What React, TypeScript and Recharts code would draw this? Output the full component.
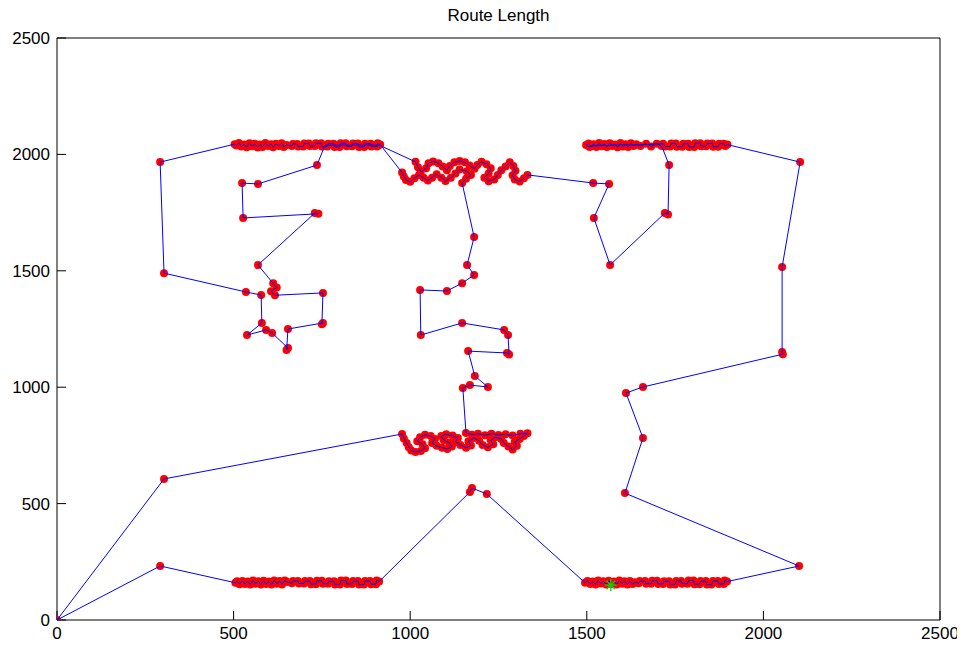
import React from 'react';
import { ComposedChart, Scatter, XAxis, YAxis } from 'recharts';

type Pt = [number, number];

// tour legs, in visiting order
const originLeg: Pt[] = [[0, 0], [303, 606]];

const lowerMidCluster: Pt[] = [
  [977, 799], [982, 780], [990, 760], [996, 742], [1003, 728], [1015, 722], [1030, 726], [1042, 738],
  [1035, 755], [1020, 768], [1028, 785], [1042, 796], [1058, 790], [1070, 778], [1062, 760], [1075, 748],
  [1090, 740], [1105, 735], [1118, 745], [1110, 762], [1095, 772], [1088, 790], [1102, 798], [1120, 792],
  [1135, 782], [1128, 765], [1142, 752], [1158, 740], [1172, 750], [1165, 768], [1180, 782], [1195, 770],
  [1205, 752], [1220, 742], [1235, 755], [1228, 772], [1242, 785], [1258, 778], [1265, 760], [1278, 745],
  [1290, 732], [1302, 748], [1296, 765], [1310, 778], [1322, 790], [1332, 802], [1312, 800], [1290, 792],
  [1270, 798], [1250, 795], [1230, 800], [1212, 794], [1192, 800], [1175, 796], [1158, 803],
];

const centralChain: Pt[] = [
  [1149, 997], [1169, 1009], [1220, 1001], [1183, 1048], [1164, 1155], [1274, 1147], [1280, 1140],
  [1277, 1224], [1266, 1246], [1147, 1276], [1030, 1224], [1028, 1418], [1104, 1413], [1147, 1447],
  [1181, 1482], [1161, 1525], [1181, 1645],
];

const topMidWest: Pt[] = [
  [1147, 1877], [1158, 1895], [1172, 1912], [1160, 1928], [1140, 1935], [1128, 1918], [1115, 1900],
  [1100, 1886], [1088, 1900], [1075, 1915], [1062, 1900], [1050, 1888], [1038, 1900], [1025, 1912],
  [1012, 1898], [1000, 1882], [988, 1890], [982, 1905], [977, 1922],
];

const topLeftZigzag: Pt[] = [
  [915, 2042], [908, 2048], [906, 2034], [890, 2034], [888, 2046], [872, 2046], [870, 2032], [855, 2032],
  [852, 2047], [838, 2047], [835, 2035], [820, 2035], [817, 2048], [803, 2048], [800, 2032], [786, 2032],
  [783, 2046], [768, 2046], [765, 2034], [750, 2034], [748, 2048], [733, 2048], [730, 2036], [716, 2036],
  [713, 2047], [700, 2047], [697, 2034], [683, 2034], [680, 2045], [668, 2045], [665, 2036],
];

const topLeftDense: Pt[] = [
  [650, 2040], [642, 2032], [636, 2048], [628, 2036], [620, 2046], [612, 2031], [606, 2044], [598, 2036],
  [590, 2049], [582, 2032], [575, 2042], [568, 2030], [560, 2046], [552, 2035], [545, 2048], [537, 2031],
  [530, 2043], [522, 2034], [515, 2049], [508, 2038], [503, 2044],
];

const topLeftLoop: Pt[] = [
  [292, 1967], [303, 1490], [535, 1409], [578, 1396], [580, 1276], [538, 1224], [592, 1246], [609, 1233],
  [654, 1168], [650, 1160], [654, 1250], [753, 1276], [750, 1270], [753, 1405], [617, 1395], [606, 1412],
  [622, 1428], [612, 1446], [569, 1525], [730, 1748], [740, 1745], [527, 1727], [524, 1877], [569, 1873],
  [736, 1954], [759, 2040], [912, 2040],
];

const topMidEast: Pt[] = [
  [1015, 1968], [1022, 1945], [1030, 1925], [1045, 1940], [1052, 1962], [1065, 1970], [1080, 1962],
  [1092, 1948], [1104, 1932], [1112, 1950], [1125, 1966], [1140, 1972], [1155, 1966], [1168, 1952],
  [1182, 1938], [1190, 1955], [1202, 1968], [1216, 1958], [1228, 1940], [1222, 1918], [1210, 1900],
  [1222, 1885], [1238, 1892], [1248, 1912], [1258, 1932], [1270, 1948], [1282, 1966], [1292, 1950],
  [1298, 1930], [1290, 1910], [1296, 1892], [1310, 1884], [1322, 1898], [1332, 1912],
];

const topRightLoop: Pt[] = [
  [1518, 1877], [1563, 1873], [1520, 1727], [1566, 1525], [1721, 1748], [1730, 1742], [1733, 1954],
];

const topRightRow: Pt[] = [
  [1712, 2036], [1698, 2046], [1682, 2034], [1668, 2046], [1652, 2036], [1640, 2044],
  [1632, 2036], [1625, 2048], [1617, 2032], [1610, 2044], [1602, 2034], [1595, 2049], [1587, 2031],
  [1580, 2043], [1572, 2036], [1565, 2048], [1557, 2032], [1550, 2045], [1542, 2035], [1535, 2049],
  [1527, 2032], [1520, 2044], [1512, 2036], [1505, 2047], [1498, 2040],
  [1508, 2032], [1530, 2040], [1560, 2038], [1600, 2042], [1636, 2040], [1716, 2046],
  [1722, 2034], [1736, 2034], [1739, 2047], [1752, 2047], [1755, 2033], [1770, 2033], [1773, 2046],
  [1787, 2046], [1790, 2032], [1804, 2032], [1807, 2048], [1821, 2048], [1824, 2035], [1838, 2035],
  [1841, 2047], [1855, 2047], [1858, 2033], [1872, 2033], [1875, 2046], [1888, 2046], [1892, 2036],
  [1898, 2042],
];

const eastSide: Pt[] = [
  [2104, 1967], [2053, 1516], [2053, 1151], [2055, 1142], [1659, 1001], [1611, 975], [1659, 782],
  [1608, 545], [2101, 232],
];

const bottomRightRow: Pt[] = [
  [1897, 165], [1890, 170], [1888, 155], [1874, 155], [1871, 168], [1857, 168], [1853, 152], [1840, 152],
  [1837, 167], [1822, 167], [1819, 154], [1805, 154], [1802, 170], [1788, 170], [1785, 156], [1770, 156],
  [1767, 168], [1753, 168], [1750, 153], [1736, 153], [1733, 166], [1719, 166], [1716, 155], [1702, 155],
  [1699, 169], [1685, 169], [1682, 156], [1668, 156], [1665, 167], [1650, 167], [1647, 158], [1636, 162],
  [1630, 155], [1622, 168], [1615, 152], [1607, 166], [1600, 156], [1592, 170], [1585, 153], [1577, 165],
  [1570, 155], [1562, 169], [1555, 152], [1547, 166], [1540, 157], [1532, 170], [1525, 153], [1517, 165],
  [1510, 155], [1502, 168], [1495, 160],
];

const centreDip: Pt[] = [[1217, 541], [1175, 567], [1169, 550]];

const bottomLeftRow: Pt[] = [
  [912, 165], [905, 170], [903, 154], [889, 154], [886, 168], [872, 168], [869, 152], [855, 152],
  [852, 167], [838, 167], [835, 155], [821, 155], [818, 170], [804, 170], [801, 153], [787, 153],
  [784, 166], [770, 166], [767, 156], [753, 156], [750, 169], [736, 169], [733, 154], [719, 154],
  [716, 167], [702, 167], [699, 157], [685, 157], [682, 168], [668, 168], [665, 158],
  [652, 163], [645, 170], [637, 153], [630, 167], [622, 156], [615, 170], [607, 152], [600, 165],
  [592, 155], [585, 169], [577, 153], [570, 166], [562, 156], [555, 170], [547, 153], [540, 165],
  [532, 155], [525, 168], [517, 154], [510, 166], [505, 160],
];

const homeLeg: Pt[] = [[292, 232]];

const startCity: Pt[] = [[1568, 150]];

const axisTicks = [0, 500, 1000, 1500, 2000, 2500];

const tour: Pt[] = [
  ...originLeg, ...lowerMidCluster, ...centralChain, ...topMidWest, ...topLeftZigzag, ...topLeftDense,
  ...topLeftLoop, ...topMidEast, ...topRightLoop, ...topRightRow, ...eastSide, ...bottomRightRow,
  ...centreDip, ...bottomLeftRow, ...homeLeg,
];

const stops = tour.map(([x, y]) => ({ x, y }));
const closedPath = [...stops, stops[0]];
const startData = startCity.map(([x, y]) => ({ x, y }));

const FONT = '"Liberation Sans", Arial, sans-serif';
const tickStyle = { fill: '#000', fontSize: 17, fontFamily: FONT };

const RedDot = (props: any) => <circle cx={props.cx} cy={props.cy} r={4} fill="#ff0000" />;
const NoMark = () => <g />;

const GreenStar = (props: any) => {
  const { cx, cy } = props;
  const r = 6;
  const d = 4.3;
  return (
    <g stroke="#00dd00" strokeWidth={1.3}>
      <line x1={cx - r} y1={cy} x2={cx + r} y2={cy} />
      <line x1={cx} y1={cy - r} x2={cx} y2={cy + r} />
      <line x1={cx - d} y1={cy - d} x2={cx + d} y2={cy + d} />
      <line x1={cx - d} y1={cy + d} x2={cx + d} y2={cy - d} />
    </g>
  );
};

export default function App() {
  return (
    <div style={{ position: 'relative', width: 955, height: 640 }}>
      <div
        style={{
          position: 'absolute',
          left: 49,
          width: 883,
          top: -2,
          textAlign: 'center',
          fontFamily: FONT,
          fontSize: 17,
          lineHeight: '20px',
        }}
      >
        Route Length
      </div>
      <ComposedChart width={955} height={640} margin={{ top: 20, right: 13, bottom: 3, left: 4 }}>
        <XAxis
          dataKey="x"
          type="number"
          domain={[0, 2500]}
          ticks={axisTicks}
          interval={0}
          allowDataOverflow
          height={25}
          tickSize={-9}
          tickMargin={16}
          axisLine={{ stroke: '#000' }}
          tickLine={{ stroke: '#000' }}
          tick={tickStyle}
        />
        <XAxis
          xAxisId="top"
          orientation="top"
          type="number"
          domain={[0, 2500]}
          ticks={axisTicks}
          interval={0}
          height={10}
          tickSize={-9}
          axisLine={{ stroke: '#000' }}
          tickLine={{ stroke: '#000' }}
          tick={false}
        />
        <YAxis
          dataKey="y"
          type="number"
          domain={[0, 2500]}
          ticks={axisTicks}
          interval={0}
          allowDataOverflow
          width={45}
          tickSize={-9}
          tickMargin={16}
          axisLine={{ stroke: '#000' }}
          tickLine={{ stroke: '#000' }}
          tick={tickStyle}
        />
        <YAxis
          yAxisId="right"
          orientation="right"
          type="number"
          domain={[0, 2500]}
          ticks={axisTicks}
          interval={0}
          width={10}
          tickSize={-9}
          axisLine={{ stroke: '#000' }}
          tickLine={{ stroke: '#000' }}
          tick={false}
        />
        <Scatter data={stops} dataKey="y" shape={RedDot} isAnimationActive={false} />
        <Scatter
          data={closedPath}
          dataKey="y"
          shape={NoMark}
          line={{ stroke: '#0000ff', strokeWidth: 1 }}
          lineType="joint"
          isAnimationActive={false}
        />
        <Scatter data={startData} dataKey="y" shape={GreenStar} isAnimationActive={false} />
      </ComposedChart>
    </div>
  );
}
